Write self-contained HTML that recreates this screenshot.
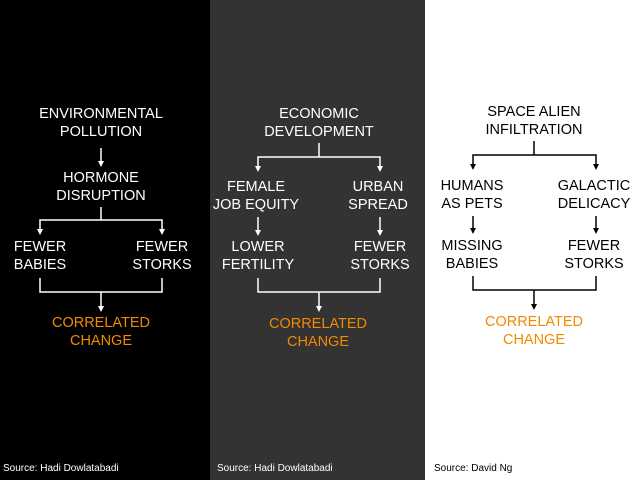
<!DOCTYPE html>
<html><head><style>
body{margin:0;width:640px;height:480px;overflow:hidden;position:relative;font-family:"Liberation Sans",sans-serif}
.p{position:absolute;top:0;height:480px}
.t{position:absolute;transform:translate(-50%,-50%);font-size:14.5px;line-height:18px;white-space:nowrap;text-align:center;margin-top:1px}
.s{position:absolute;font-size:10px;top:463px}
svg{position:absolute;left:0;top:0}
</style></head><body>
<div class="p" style="left:0;width:210px;background:#000"></div>
<div class="p" style="left:210px;width:215px;background:#333"></div>
<div class="p" style="left:425px;width:215px;background:#fff"></div>
<svg width="640" height="480">
<g stroke="#fff" stroke-width="1.5" fill="none">
<line x1="101" y1="148" x2="101" y2="162"/>
<polyline points="101,207 101,220"/><polyline points="40,230 40,220 162,220 162,230"/>
<polyline points="40,278 40,292 162,292 162,278"/><line x1="101" y1="292" x2="101" y2="307"/>
<polyline points="319,143 319,157"/><polyline points="258,167 258,157 380,157 380,167"/>
<line x1="258" y1="217" x2="258" y2="231"/><line x1="380" y1="217" x2="380" y2="231"/>
<polyline points="258,278 258,292 380,292 380,278"/><line x1="319" y1="292" x2="319" y2="307"/>
</g>
<g fill="#fff">
<path d="M98,161 L104,161 L101,167Z"/><path d="M37,229 L43,229 L40,235Z"/><path d="M159,229 L165,229 L162,235Z"/><path d="M98,306 L104,306 L101,312Z"/>
<path d="M255,166 L261,166 L258,172Z"/><path d="M377,166 L383,166 L380,172Z"/><path d="M255,230 L261,230 L258,236Z"/><path d="M377,230 L383,230 L380,236Z"/><path d="M316,306 L322,306 L319,312Z"/>
</g>
<g stroke="#000" stroke-width="1.5" fill="none">
<polyline points="534,141 534,155"/><polyline points="473,165 473,155 596,155 596,165"/>
<line x1="473" y1="216" x2="473" y2="229"/><line x1="596" y1="216" x2="596" y2="229"/>
<polyline points="473,276 473,290 596,290 596,276"/><line x1="534" y1="290" x2="534" y2="305"/>
</g>
<g fill="#000">
<path d="M470,164 L476,164 L473,170Z"/><path d="M593,164 L599,164 L596,170Z"/><path d="M470,228 L476,228 L473,234Z"/><path d="M593,228 L599,228 L596,234Z"/><path d="M531,304 L537,304 L534,310Z"/>
</g>
</svg>
<div style="color:#fff">
<div class="t" style="left:101px;top:122px">ENVIRONMENTAL<br>POLLUTION</div>
<div class="t" style="left:101px;top:186px">HORMONE<br>DISRUPTION</div>
<div class="t" style="left:40px;top:255px">FEWER<br>BABIES</div>
<div class="t" style="left:162px;top:255px">FEWER<br>STORKS</div>
<div class="t" style="left:101px;top:331px;color:#f08a00">CORRELATED<br>CHANGE</div>
<div class="t" style="left:319px;top:122px">ECONOMIC<br>DEVELOPMENT</div>
<div class="t" style="left:256px;top:195px">FEMALE<br>JOB EQUITY</div>
<div class="t" style="left:378px;top:195px">URBAN<br>SPREAD</div>
<div class="t" style="left:258px;top:255px">LOWER<br>FERTILITY</div>
<div class="t" style="left:380px;top:255px">FEWER<br>STORKS</div>
<div class="t" style="left:318px;top:332px;color:#f08a00">CORRELATED<br>CHANGE</div>
</div>
<div style="color:#000">
<div class="t" style="left:534px;top:120px">SPACE ALIEN<br>INFILTRATION</div>
<div class="t" style="left:472px;top:194px">HUMANS<br>AS PETS</div>
<div class="t" style="left:594px;top:194px">GALACTIC<br>DELICACY</div>
<div class="t" style="left:472px;top:254px">MISSING<br>BABIES</div>
<div class="t" style="left:594px;top:254px">FEWER<br>STORKS</div>
<div class="t" style="left:534px;top:330px;color:#f08a00">CORRELATED<br>CHANGE</div>
</div>
<div class="s" style="left:3px;color:#fff">Source: Hadi Dowlatabadi</div>
<div class="s" style="left:217px;color:#fff">Source: Hadi Dowlatabadi</div>
<div class="s" style="left:434px;color:#000">Source: David Ng</div>
</body></html>
